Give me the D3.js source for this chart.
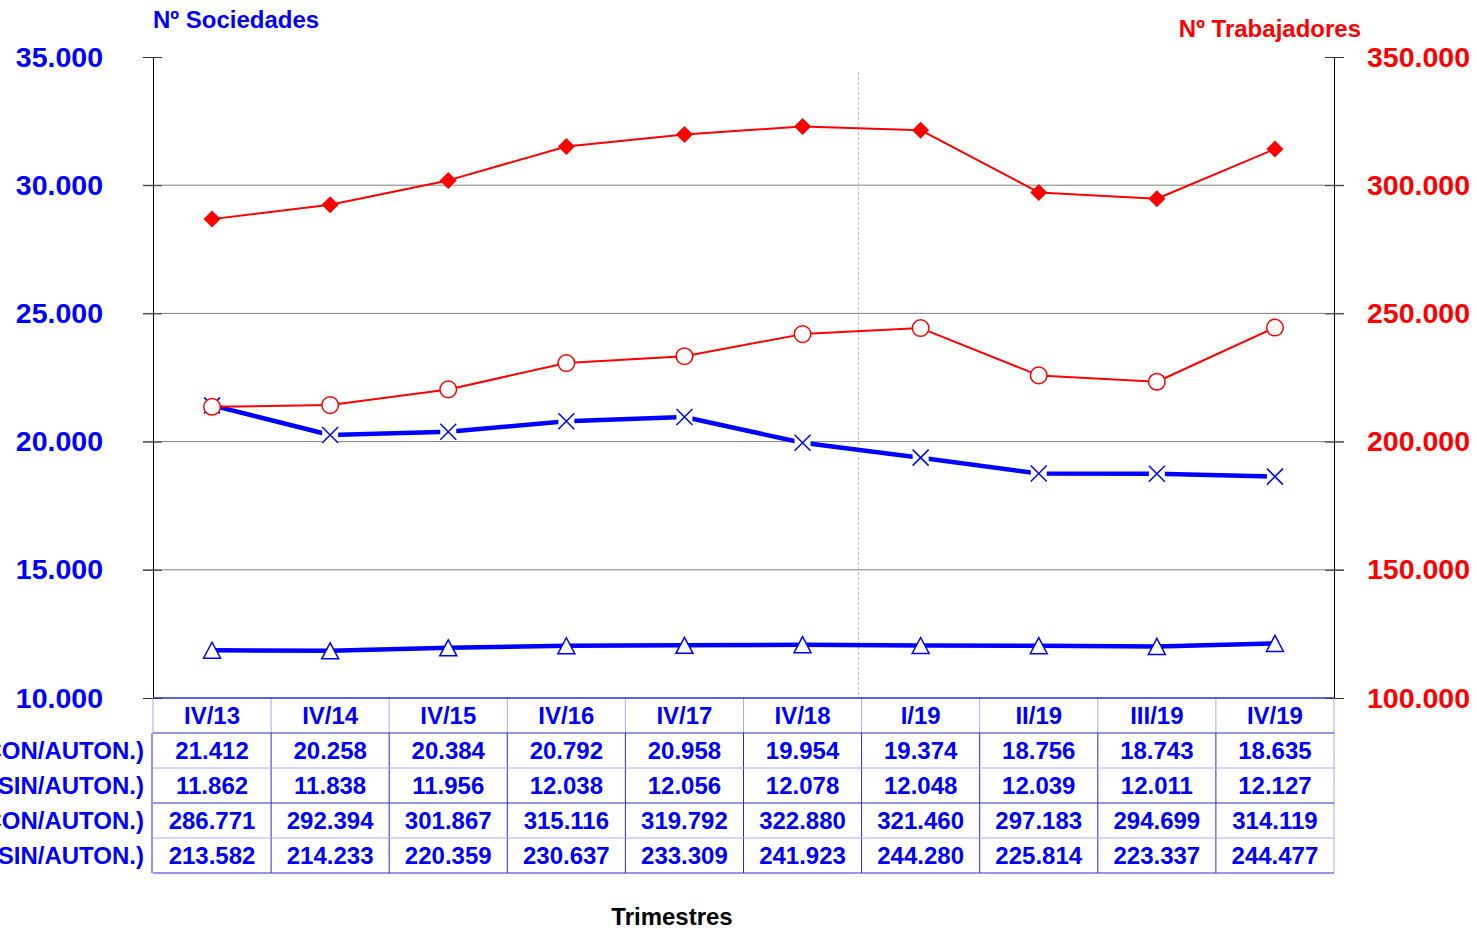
<!DOCTYPE html>
<html>
<head>
<meta charset="utf-8">
<script src="https://cdn.jsdelivr.net/npm/d3@7"></script>
<style>
  body { margin: 0; background: #fff; }
  text { font-family: Arial, "Liberation Sans", sans-serif; font-weight: bold; }
</style>
</head>
<body>
<script>
(function () {
	"use strict";

	var W = 1477, H = 931;
	var margin = { top: 57, left: 153 };
	var w = 1181, h = 641;

	// Data
	var cats = ["IV/13", "IV/14", "IV/15", "IV/16", "IV/17", "IV/18", "I/19", "II/19", "III/19", "IV/19"];
	var socCon = [21412, 20258, 20384, 20792, 20958, 19954, 19374, 18756, 18743, 18635];
	var socSin = [11862, 11838, 11956, 12038, 12056, 12078, 12048, 12039, 12011, 12127];
	var trabCon = [286771, 292394, 301867, 315116, 319792, 322880, 321460, 297183, 294699, 314119];
	var trabSin = [213582, 214233, 220359, 230637, 233309, 241923, 244280, 225814, 223337, 244477];
	var rowLabels = ["Nº SOCIEDADES (CON/AUTON.)", "Nº SOCIEDADES (SIN/AUTON.)",
		"Nº TRABAJADORES (CON/AUTON.)", "Nº TRABAJADORES (SIN/AUTON.)"];
	var leftTicks = [10000, 15000, 20000, 25000, 30000, 35000];
	var rightTicks = [100000, 150000, 200000, 250000, 300000, 350000];

	var BLUE = "#0000ff", RED = "#ff0000";
	var DARK = "#2a2ad8", LIGHT = "#a8a8ff";

	var es = d3.formatLocale({ decimal: ",", thousands: ".", grouping: [3], currency: ["", " €"] });
	var fmt = es.format(",d");

	var svg = d3.select("body").append("svg")
		.attr("width", W)
		.attr("height", H);

	var g = svg.append("g")
		.attr("transform", "translate(" + margin.left + "," + margin.top + ")");

	// Scales
	var x = d3.scaleBand().domain(cats).range([0, w]);
	var yL = d3.scaleLinear().domain([10000, 35000]).range([h, 0]);
	var yR = d3.scaleLinear().domain([100000, 350000]).range([h, 0]);
	var cx = (d) => x(d) + x.bandwidth() / 2;

	// Gridlines
	g.append("g").selectAll("line")
		.data(leftTicks.slice(1, -1))
		.join("line")
		.attr("x1", -10).attr("x2", w + 10)
		.attr("y1", (d) => yL(d)).attr("y2", (d) => yL(d))
		.attr("stroke", "#808080").attr("stroke-width", 1);

	// light dashed divider between 2018 and 2019
	g.append("line")
		.attr("x1", x("I/19") - 3).attr("x2", x("I/19") - 3)
		.attr("y1", 15).attr("y2", h)
		.attr("stroke", "#bbbbbb")
		.attr("stroke-dasharray", "3,2");

	// Axes
	var leftAxis = g.append("g")
		.call(d3.axisLeft(yL).tickValues(leftTicks).tickFormat(fmt)
			.tickSizeInner(10).tickSizeOuter(0).tickPadding(40));
	leftAxis.selectAll(".tick line").attr("x1", 9).attr("stroke", "#333");
	leftAxis.select(".domain").attr("stroke", "#000");
	leftAxis.selectAll("text")
		.attr("fill", BLUE).style("font-size", "28.5px");

	var rightAxis = g.append("g")
		.attr("transform", "translate(" + w + ",0)")
		.call(d3.axisRight(yR).tickValues(rightTicks).tickFormat(fmt)
			.tickSizeInner(10).tickSizeOuter(0).tickPadding(23));
	rightAxis.selectAll(".tick line").attr("x1", -9).attr("stroke", "#333");
	rightAxis.select(".domain").attr("stroke", "#000");
	rightAxis.selectAll("text")
		.attr("fill", RED).style("font-size", "28.5px");

	// Axis titles
	svg.append("text")
		.attr("x", 153).attr("y", 28)
		.attr("fill", BLUE).style("font-size", "24px")
		.text("Nº Sociedades");
	svg.append("text")
		.attr("x", 1361).attr("y", 37)
		.attr("text-anchor", "end")
		.attr("fill", RED).style("font-size", "24px")
		.text("Nº Trabajadores");

	// Series
	function drawLine(vals, yScale, color, width) {
		var line = d3.line()
			.x((d, i) => cx(cats[i]))
			.y((d) => yScale(d));
		g.append("path")
			.attr("d", line(vals))
			.attr("fill", "none")
			.attr("stroke", color)
			.attr("stroke-width", width)
			.attr("stroke-linejoin", "round");
	}

	// Sociedades con autonomos: X markers
	drawLine(socCon, yL, BLUE, 4.5);
	var xm = g.append("g").selectAll("g")
		.data(socCon)
		.join("g")
		.attr("transform", (d, i) => "translate(" + cx(cats[i]) + "," + yL(d) + ")");
	xm.append("rect")
		.attr("x", -8).attr("y", -8).attr("width", 16).attr("height", 16)
		.attr("fill", "#fff");
	xm.append("path")
		.attr("d", "M-8,-8L8,8M-8,8L8,-8")
		.attr("stroke", BLUE).attr("stroke-width", 1.5);

	// Sociedades sin autonomos: triangles
	drawLine(socSin, yL, BLUE, 4.5);
	g.append("g").selectAll("path")
		.data(socSin)
		.join("path")
		.attr("transform", (d, i) => "translate(" + cx(cats[i]) + "," + yL(d) + ")")
		.attr("d", "M0,-8L8.5,8L-8.5,8Z")
		.attr("fill", "#fff")
		.attr("stroke", BLUE).attr("stroke-width", 1.5);

	// Trabajadores con autonomos: filled diamonds
	drawLine(trabCon, yR, RED, 2);
	g.append("g").selectAll("path")
		.data(trabCon)
		.join("path")
		.attr("transform", (d, i) => "translate(" + cx(cats[i]) + "," + yR(d) + ")")
		.attr("d", "M0,-8.5L8.5,0L0,8.5L-8.5,0Z")
		.attr("fill", RED);

	// Trabajadores sin autonomos: open circles
	drawLine(trabSin, yR, RED, 2);
	g.append("g").selectAll("circle")
		.data(trabSin)
		.join("circle")
		.attr("cx", (d, i) => cx(cats[i]))
		.attr("cy", (d) => yR(d))
		.attr("r", 8.3)
		.attr("fill", "#fff")
		.attr("stroke", RED).attr("stroke-width", 1.5);

	// Data table
	var headH = 35, rowH = 35;
	var rows = [socCon, socSin, trabCon, trabSin];
	var t = g.append("g").attr("transform", "translate(0," + h + ")");

	// vertical lines, header row (light)
	t.append("g").selectAll("line")
		.data(cats.concat(["end"]))
		.join("line")
		.attr("x1", (d, i) => i * x.step()).attr("x2", (d, i) => i * x.step())
		.attr("y1", 0).attr("y2", headH)
		.attr("stroke", LIGHT);
	// vertical lines, data rows
	t.append("g").selectAll("line")
		.data(cats.concat(["end"]))
		.join("line")
		.attr("x1", (d, i) => i * x.step() - (i === 0 ? 1 : 0))
		.attr("x2", (d, i) => i * x.step() - (i === 0 ? 1 : 0))
		.attr("y1", headH).attr("y2", headH + rows.length * rowH)
		.attr("stroke", (d, i) => i === cats.length ? LIGHT : DARK);
	// horizontal lines
	t.append("g").selectAll("line")
		.data(d3.range(rows.length + 1))
		.join("line")
		.attr("x1", 0).attr("x2", w)
		.attr("y1", (d) => headH + d * rowH).attr("y2", (d) => headH + d * rowH)
		.attr("stroke", (d) => d % 2 === 0 ? DARK : LIGHT);
	// top border of the table (plot bottom)
	t.append("line")
		.attr("x1", 0).attr("x2", w)
		.attr("stroke", DARK).attr("stroke-width", 1.5);

	t.append("g").selectAll("text")
		.data(cats)
		.join("text")
		.attr("x", (d) => cx(d))
		.attr("y", headH / 2 + 8)
		.attr("text-anchor", "middle")
		.attr("fill", BLUE).style("font-size", "24px")
		.text((d) => d);

	rows.forEach(function (vals, r) {
		var ry = headH + r * rowH + rowH / 2 + 8;
		t.append("text")
			.attr("x", -9).attr("y", ry)
			.attr("text-anchor", "end")
			.attr("fill", BLUE).style("font-size", "24px")
			.text(rowLabels[r]);
		t.append("g").selectAll("text")
			.data(vals)
			.join("text")
			.attr("x", (d, i) => cx(cats[i]))
			.attr("y", ry)
			.attr("text-anchor", "middle")
			.attr("fill", BLUE).style("font-size", "24px")
			.text((d) => fmt(d));
	});

	// X axis title
	svg.append("text")
		.attr("x", 672).attr("y", 925)
		.attr("text-anchor", "middle")
		.attr("fill", "#000").style("font-size", "24px")
		.text("Trimestres");
})();
</script>
</body>
</html>
